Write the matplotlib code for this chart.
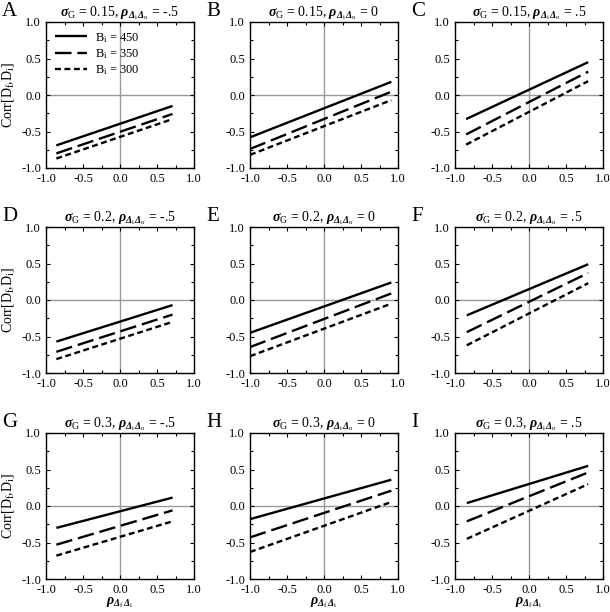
import matplotlib
matplotlib.use("Agg")
import matplotlib.pyplot as plt
from matplotlib.ticker import MultipleLocator

plt.rcParams['font.family'] = ['Liberation Serif', 'DejaVu Serif']
plt.rcParams['mathtext.fontset'] = 'custom'
plt.rcParams['mathtext.rm'] = 'Liberation Serif'
plt.rcParams['mathtext.it'] = 'Liberation Serif:italic'
plt.rcParams['mathtext.bf'] = 'Liberation Serif:bold:italic'
plt.rcParams['axes.unicode_minus'] = False

# panel settings
letters = ["A", "B", "C", "D", "E", "F", "G", "H", "I"]
sigma_g = ["0.15", "0.15", "0.15", "0.2", "0.2", "0.2", "0.3", "0.3", "0.3"]
rho_io = ["-.5", "0", ".5", "-.5", "0", ".5", "-.5", "0", ".5"]

# x range of each panel's lines (start, end)
x_start = [-0.86, -1.0, -0.85, -0.86, -1.0, -0.84, -0.86, -1.0, -0.84]
x_end = [0.71, 0.91, 0.80, 0.71, 0.91, 0.80, 0.71, 0.91, 0.80]

# y at start / end, per B_i
b450_start = [-0.69, -0.58, -0.33, -0.57, -0.45, -0.21, -0.30, -0.18, 0.04]
b450_end = [-0.15, 0.18, 0.45, -0.07, 0.24, 0.49, 0.115, 0.36, 0.55]
b350_start = [-0.80, -0.74, -0.54, -0.71, -0.645, -0.44, -0.53, -0.43, -0.21]
b350_end = [-0.26, 0.045, 0.32, -0.20, 0.09, 0.37, -0.06, 0.21, 0.46]
b300_start = [-0.87, -0.82, -0.68, -0.81, -0.77, -0.62, -0.68, -0.63, -0.45]
b300_end = [-0.33, -0.07, 0.19, -0.30, -0.05, 0.23, -0.21, 0.055, 0.30]

legend_labels = [r"B$_\mathrm{i}$ = 450", r"B$_\mathrm{i}$ = 350", r"B$_\mathrm{i}$ = 300"]
styles = [(0, ()), (0, (7, 2.5)), (0, (2.5, 1.5))]

fig = plt.figure(figsize=(6.1, 6.12), dpi=100)
W, H = 610.0, 612.0
col_left = [46, 250, 455]
row_top = [22, 227, 433]
aw, ah = 148, 146

for k in range(9):
    r, c = divmod(k, 3)
    ax = fig.add_axes([col_left[c] / W, 1 - (row_top[r] + ah) / H, aw / W, ah / H])
    ax.axhline(0, color="#999999", lw=1.0, zorder=1)
    ax.axvline(0, color="#999999", lw=1.0, zorder=1)
    xs = [x_start[k], x_end[k]]
    series = [(b450_start, b450_end), (b350_start, b350_end), (b300_start, b300_end)]
    for (s, e), ls, lab in zip(series, styles, legend_labels):
        ax.plot(xs, [s[k], e[k]], color="black", lw=1.7, linestyle=ls, label=lab,
                dash_capstyle="butt", zorder=2)
    ax.set_xlim(-1, 1)
    ax.set_ylim(-1, 1)
    ax.xaxis.set_major_locator(MultipleLocator(0.5))
    ax.yaxis.set_major_locator(MultipleLocator(0.5))
    ax.xaxis.set_minor_locator(MultipleLocator(0.25))
    ax.yaxis.set_minor_locator(MultipleLocator(0.25))
    ax.xaxis.set_major_formatter(matplotlib.ticker.FormatStrFormatter("%.1f"))
    ax.yaxis.set_major_formatter(matplotlib.ticker.FormatStrFormatter("%.1f"))
    ax.tick_params(which="both", direction="in", top=True, right=True, labelsize=9, width=0.8)
    ax.tick_params(which="major", length=3)
    ax.tick_params(which="minor", length=2)
    for sp in ax.spines.values():
        sp.set_linewidth(1.0)
    ax.set_title(r"$\mathbf{\sigma}_\mathrm{G}$ = " + sigma_g[k] + r", $\mathbf{\rho}_{\mathbf{\Delta}_\mathrm{i}\,\mathbf{\Delta}_\mathrm{o}}$ = " + rho_io[k],
                 fontsize=10, pad=4)
    if c == 0:
        ax.set_ylabel(r"Corr[D$_\mathrm{f}$,D$_\mathrm{i}$]", fontsize=10, labelpad=4)
    if r == 2:
        ax.set_xlabel(r"$\mathbf{\rho}_{\mathbf{\Delta}_\mathrm{f}\,\mathbf{\Delta}_\mathrm{i}}$", fontsize=10, labelpad=0)
    if k == 0:
        ax.legend(loc="upper left", frameon=False, fontsize=9, handlelength=2.6,
                  borderaxespad=0.3, labelspacing=0.2, handletextpad=0.6)
    fig.text((col_left[c] - 44) / W, 1 - (row_top[r] - 20) / H, letters[k], fontsize=15,
             va="top", ha="left")

fig.savefig("out.png", dpi=100)
